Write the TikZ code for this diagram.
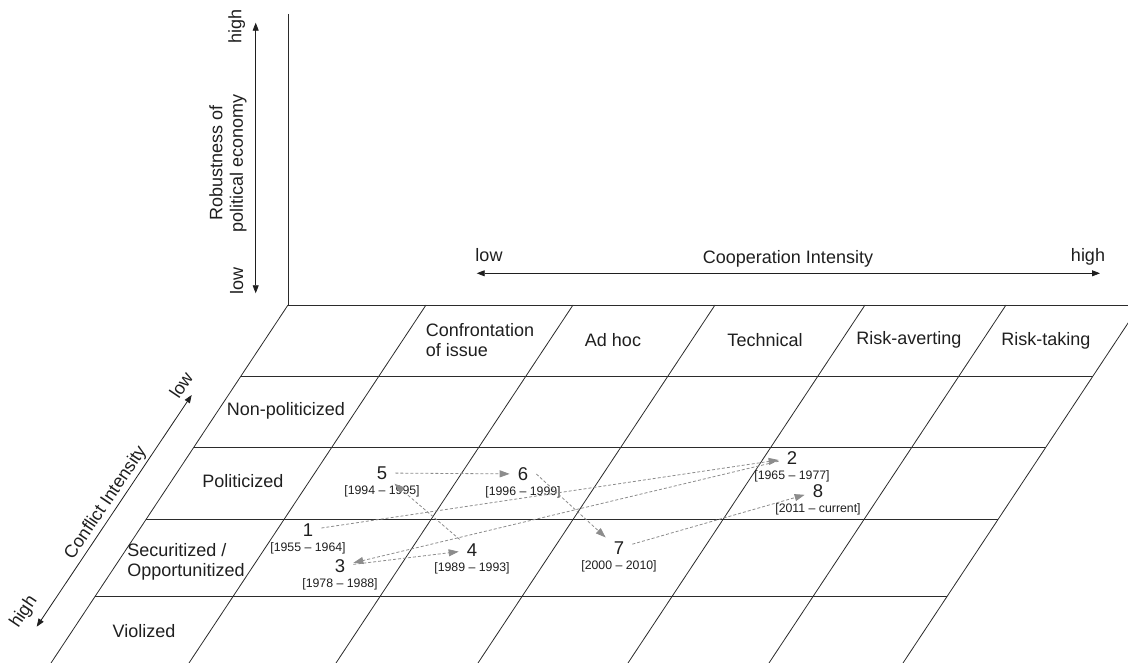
\documentclass[tikz,border=0pt]{standalone}
\usepackage{fontspec}
\setmainfont{Liberation Sans}
\usetikzlibrary{arrows.meta, positioning}
\definecolor{cInk}{HTML}{1F1F1F}
\definecolor{cGrid}{HTML}{2B2B2B}
\definecolor{cTrend}{HTML}{8C8C8C}
\tikzset{
  gridline/.style={draw=cGrid, line width=0.8pt},
  axis/.style={{Triangle[length=8pt,width=6pt]}-{Triangle[length=8pt,width=6pt]},
    line width=0.8pt, draw=cInk},
  trend/.style={-{Triangle[length=10pt,width=7pt]}, dash pattern=on 3pt off 2pt,
    line width=0.8pt, draw=cTrend},
  lbl/.style={font=\fontsize{18}{20.5}\selectfont, text=cInk, inner sep=1pt},
  num/.style={font=\fontsize{18.5}{20}\selectfont, text=cInk,
    inner xsep=8pt, inner ysep=4pt},
  yr/.style={font=\fontsize{12.3}{14}\selectfont, text=cInk, inner sep=1pt},
}

\begin{document}
\begin{tikzpicture}[x=1pt, y=-1pt]
  \useasboundingbox (0,0) rectangle (1128,663);

  % Back wall and grid
  \draw[gridline] (288,14) -- (288,305) -- (1140,305);
  \draw[gridline] (241,376) -- (1093,376);
  \draw[gridline] (194,447) -- (1046,447);
  \draw[gridline] (146.3,519) -- (998.3,519);
  \draw[gridline] (95.4,596) -- (947.4,596);
  \draw[gridline] (288,305) -- (51,663);
  \draw[gridline] (426,305) -- (189,663);
  \draw[gridline] (573,305) -- (336,663);
  \draw[gridline] (715,305) -- (478,663);
  \draw[gridline] (865,305) -- (628,663);
  \draw[gridline] (1006,305) -- (769,663);
  \draw[gridline] (1140,305) -- (903,663);

  % Robustness axis
  \coordinate (robHigh) at (255.7,22.7);
  \coordinate (robLow) at (255.7,293.3);
  \draw[axis] (robLow) -- (robHigh);
  \node[lbl, rotate=90] (robHi) at (236.7,26) {high};
  \node[lbl, rotate=90] (robLo) at (236.7,281) {low};
  \node[lbl, rotate=90, align=center] (robTitle) at (228,163)
    {Robustness of\\political economy};

  % Cooperation axis
  \coordinate (coopLow) at (476.7,273.3);
  \coordinate (coopHigh) at (1100,273.3);
  \draw[axis] (coopLow) -- (coopHigh);
  \node[lbl, anchor=base] (coopLo) at (489,262) {low};
  \node[lbl, anchor=base] (coopHi) at (1088,262) {high};
  \node[lbl, anchor=base] (coopTitle) at (788,264) {Cooperation Intensity};

  % Conflict axis
  \coordinate (confLow) at (191.7,395);
  \coordinate (confHigh) at (36.7,626.7);
  \draw[axis] (confHigh) -- (confLow);
  \node[lbl, rotate=56] (confLo) at (181,385) {low};
  \node[lbl, rotate=56] (confHi) at (24,612) {high};
  \node[lbl, rotate=56] (confTitle) at (106,503) {Conflict Intensity};

  % Column heads
  \node[lbl, align=left] (cConf) at (480,340) {Confrontation\\of issue};
  \node[lbl] (cAdhoc) at (613,340) {Ad hoc};
  \node[lbl] (cTech) at (765,340) {Technical};
  \node[lbl] (cAvert) at (909,340) {Risk-averting};
  \node[lbl] (cTake) at (1046,341) {Risk-taking};

  % Row heads
  \node[lbl] (rNonpol) at (286,411) {Non-politicized};
  \node[lbl] (rPol) at (243,481) {Politicized};
  \node[lbl, align=left] (rSec) at (186,562) {Securitized /\\Opportunitized};
  \node[lbl] (rViol) at (144,631) {Violized};

  % Periods
  \node[num] (p1) at (308,530) {1};
  \node[yr, below=1pt of p1] (y1) {[1955 -- 1964]};
  \node[num] (p2) at (792,458) {2};
  \node[yr, below=1pt of p2] (y2) {[1965 -- 1977]};
  \node[num] (p3) at (340,566) {3};
  \node[yr, below=1pt of p3] (y3) {[1978 -- 1988]};
  \node[num] (p4) at (472,550) {4};
  \node[yr, below=1pt of p4] (y4) {[1989 -- 1993]};
  \node[num] (p5) at (382,473) {5};
  \node[yr, below=1pt of p5] (y5) {[1994 -- 1995]};
  \node[num] (p6) at (523,474) {6};
  \node[yr, below=1pt of p6] (y6) {[1996 -- 1999]};
  \node[num] (p7) at (619,548) {7};
  \node[yr, below=1pt of p7] (y7) {[2000 -- 2010]};
  \node[num] (p8) at (818,491) {8};
  \node[yr, below=1pt of p8] (y8) {[2011 -- current]};

  % Trajectory
  \draw[trend] (p1) -- (p2);
  \draw[trend] (p2) -- (p3);
  \draw[trend] (p3) -- (p4);
  \draw[trend] (p4) -- (p5);
  \draw[trend] (p5) -- (p6);
  \draw[trend] (p6.east) -- (p7.north west);
  \draw[trend] (p7) -- (p8);

\end{tikzpicture}
\end{document}
